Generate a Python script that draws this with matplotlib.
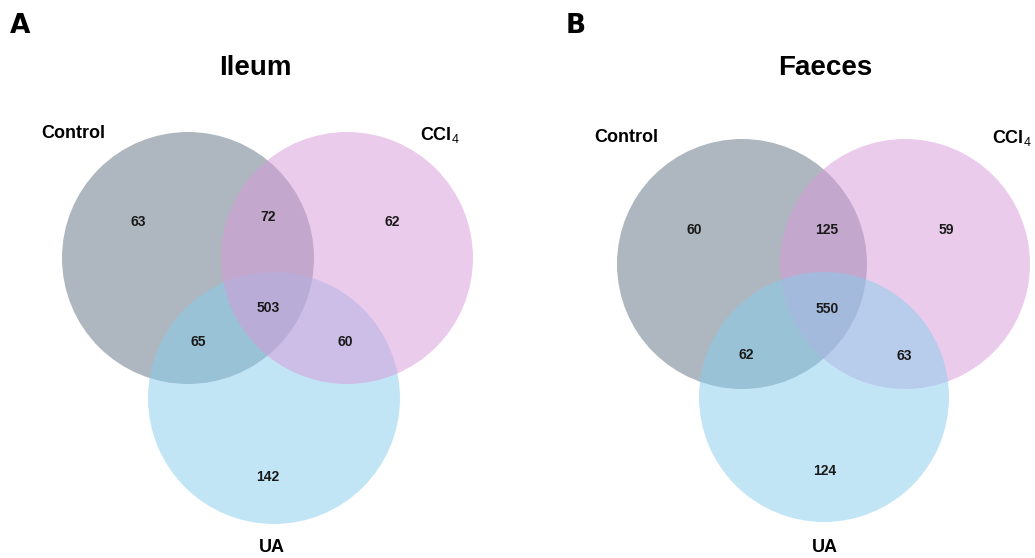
import matplotlib.pyplot as plt
from matplotlib.patches import Circle

plt.rcParams['font.family'] = ['Liberation Sans', 'DejaVu Sans']
plt.rcParams['mathtext.fontset'] = 'custom'
plt.rcParams['mathtext.rm'] = 'Liberation Sans'
plt.rcParams['mathtext.bf'] = 'Liberation Sans:bold'

groups = ['Control', 'CCl$_4$', 'UA']
panels = ['Ileum', 'Faeces']
letters = ['A', 'B']
regions = ['Control', 'Control&CCl4', 'CCl4', 'all', 'Control&UA', 'CCl4&UA', 'UA']
ileum_counts = [63, 72, 62, 503, 65, 60, 142]
faeces_counts = [60, 125, 59, 550, 62, 63, 124]

colors = {'Control': '#5f7080', 'CCl4': '#d998d9', 'UA': '#87cdee'}

# layout in pixels: circle centres, radius, label spots
layout = [
    dict(centres={'Control': (188, 258), 'CCl4': (347, 258), 'UA': (274, 398)},
         order=['Control', 'UA', 'CCl4'], r=126,
         spots=[(138, 222), (268, 217), (392, 222), (268, 308), (198, 342), (345, 342), (268, 477)],
         names=[(73, 133), (440, 135), (272, 547)], title=(255, 68), letter=(20, 26)),
    dict(centres={'Control': (742, 264), 'CCl4': (905, 264), 'UA': (824, 397)},
         order=['Control', 'CCl4', 'UA'], r=125,
         spots=[(694, 230), (827, 230), (946, 230), (827, 309), (746, 355), (904, 356), (825, 471)],
         names=[(626, 138), (1012, 138), (825, 548)], title=(825, 68), letter=(576, 26)),
]

fig = plt.figure(figsize=(10.35, 5.58), dpi=100)
ax = fig.add_axes([0, 0, 1, 1])
ax.set_xlim(0, 1035)
ax.set_ylim(558, 0)
ax.set_aspect('equal')
ax.axis('off')

for name, letter, counts, lay in zip(panels, letters, [ileum_counts, faeces_counts], layout):
    for key in lay['order']:
        ax.add_patch(Circle(lay['centres'][key], lay['r'], facecolor=colors[key],
                            edgecolor='none', alpha=0.5))
    for (x, y), n in zip(lay['spots'], counts):
        ax.text(x, y, str(n), ha='center', va='center', fontsize=10, fontweight='bold',
                color='#1a1a1a')
    for (x, y), g in zip(lay['names'], groups):
        ax.text(x, y, g, ha='center', va='center', fontsize=13, fontweight='bold')
    ax.text(*lay['title'], name, ha='center', va='center', fontsize=20, fontweight='bold')
    # heavy panel letter
    ax.text(*lay['letter'], letter, ha='center', va='center', fontsize=19, fontweight='heavy',
            family='DejaVu Sans')

fig.savefig('out.png', dpi=100)
